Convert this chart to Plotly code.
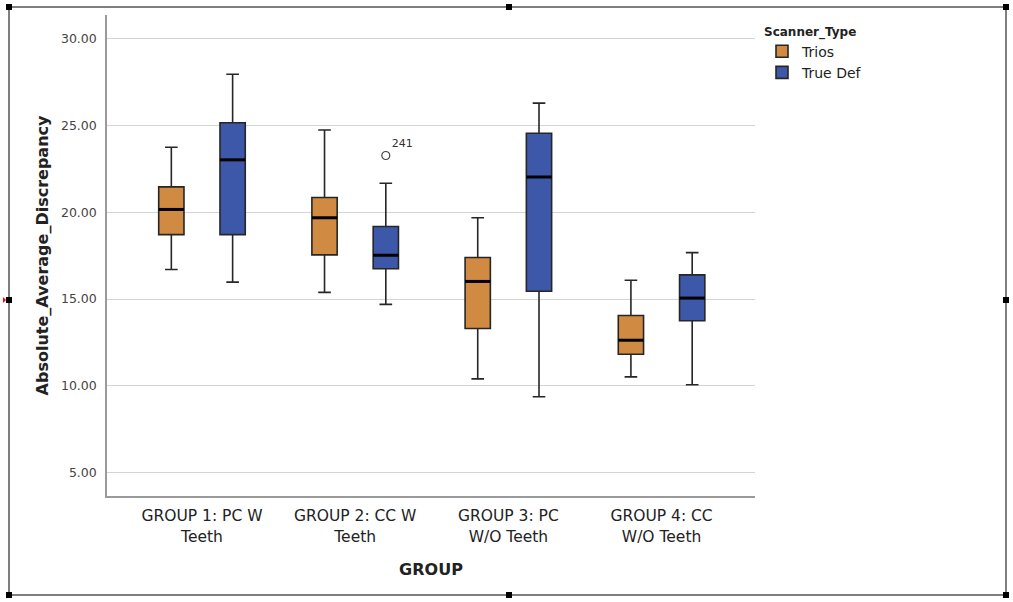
import plotly.graph_objects as go

# ---------------- data ----------------
groups = ["GROUP 1: PC W<br>Teeth", "GROUP 2: CC W<br>Teeth",
          "GROUP 3: PC<br>W/O Teeth", "GROUP 4: CC<br>W/O Teeth"]
scanner_types = ["Trios", "True Def"]

trios_low = [16.71, 15.39, 10.40, 10.52]
trios_q1 = [18.72, 17.55, 13.31, 11.82]
trios_med = [20.17, 19.69, 16.02, 12.63]
trios_q3 = [21.47, 20.86, 17.40, 14.06]
trios_high = [23.76, 24.75, 19.69, 16.09]

truedef_low = [15.98, 14.70, 9.37, 10.06]
truedef_q1 = [18.72, 16.75, 15.45, 13.75]
truedef_med = [23.03, 17.53, 22.04, 15.06]
truedef_q3 = [25.17, 19.19, 24.56, 16.40]
truedef_high = [27.96, 21.68, 26.30, 17.68]

outlier_group = [1]          # index into groups
outlier_type = ["True Def"]
outlier_value = [23.28]
outlier_label = ["241"]

y_ticks = [5, 10, 15, 20, 25, 30]

# ---------------- styling ----------------
colors = {"Trios": "#D08A41", "True Def": "#3D58A8"}
offsets = {"Trios": -0.20, "True Def": 0.20}
BOX_W = 0.165
FONT = "DejaVu Sans"

series = {
    "Trios": (trios_low, trios_q1, trios_med, trios_q3, trios_high),
    "True Def": (truedef_low, truedef_q1, truedef_med, truedef_q3, truedef_high),
}

fig = go.Figure()
for name in scanner_types:
    low, q1, med, q3, high = series[name]
    xs = [i + offsets[name] for i in range(len(groups))]
    fig.add_trace(go.Box(
        name=name, x=xs, q1=q1, median=med, q3=q3,
        lowerfence=low, upperfence=high,
        width=BOX_W, whiskerwidth=0.5,
        fillcolor=colors[name],
        line=dict(color="#262626", width=1.6),
        boxpoints=False, hoverinfo="skip",
    ))

# thick median lines
for name in scanner_types:
    med = series[name][2]
    mx, my = [], []
    for i, m in enumerate(med):
        c = i + offsets[name]
        mx += [c - BOX_W / 2, c + BOX_W / 2, None]
        my += [m, m, None]
    fig.add_trace(go.Scatter(x=mx, y=my, mode="lines",
                             line=dict(color="black", width=3),
                             showlegend=False, hoverinfo="skip"))

# outlier
fig.add_trace(go.Scatter(
    x=[g + offsets[t] for g, t in zip(outlier_group, outlier_type)],
    y=outlier_value, mode="markers+text", text=outlier_label,
    textposition="top right",
    textfont=dict(family=FONT, size=11, color="#333"),
    marker=dict(symbol="circle-open", size=8, color="#444", line=dict(width=1.2)),
    showlegend=False, hoverinfo="skip", cliponaxis=False,
))

# ---------------- layout ----------------
L, R, T, B = 107, 258, 15, 106
W, H = 1013, 602
PW, PH = W - L - R, H - T - B


def px(xp):
    return (xp - L) / PW


def py(yp):
    return (H - B - yp) / PH


shapes = [dict(type="rect", xref="paper", yref="paper",
               x0=px(9), x1=px(1006), y0=py(7), y1=py(595),
               line=dict(color="#555", width=1.5), layer="below")]
for hx, hy in [(9, 7), (509, 7), (1006, 7), (9, 300), (1006, 300),
               (9, 595), (509, 595), (1006, 595)]:
    shapes.append(dict(type="rect", xref="paper", yref="paper",
                       x0=px(hx - 3), x1=px(hx + 3), y0=py(hy + 3), y1=py(hy - 3),
                       fillcolor="black", line=dict(width=0)))
shapes.append(dict(type="path", xref="paper", yref="paper",
                   path=f"M {px(3)} {py(297)} L {px(6)} {py(300)} L {px(3)} {py(303)} Z",
                   fillcolor="red", line=dict(width=0)))

fig.update_layout(
    width=W, height=H,
    margin=dict(l=L, r=R, t=T, b=B, pad=0),
    paper_bgcolor="white", plot_bgcolor="white",
    font=dict(family=FONT, color="#222"),
    showlegend=True,
    legend=dict(
        x=px(762), y=py(20), xanchor="left", yanchor="top",
        title=dict(text="<b>Scanner_Type</b>", font=dict(size=12, color="#222")),
        font=dict(size=14, color="#222"),
        itemwidth=30, tracegroupgap=0, bgcolor="rgba(0,0,0,0)",
    ),
    xaxis=dict(
        range=[-0.62, 3.61], tickmode="array",
        tickvals=list(range(len(groups))), ticktext=groups,
        showgrid=False, zeroline=False,
        showline=True, linecolor="#9a9a9a", linewidth=1.5,
        ticks="", tickfont=dict(size=15.5, color="#222"),
        ticklabelstandoff=5,
        title=dict(text="<b>GROUP</b>", font=dict(size=16, color="#222"), standoff=19),
    ),
    yaxis=dict(
        range=[3.65, 31.38], tickmode="array", tickvals=y_ticks,
        tickformat=".2f", showgrid=True, gridcolor="#d4d4d4", gridwidth=1,
        zeroline=False, showline=True, linecolor="#9a9a9a", linewidth=1.5,
        ticks="", tickfont=dict(size=12.5, color="#444"),
        ticklabelstandoff=6,
        title=dict(text="<b>Absolute_Average_Discrepancy</b>",
                   font=dict(size=16, color="#222"), standoff=8),
    ),
    shapes=shapes,
)

fig.write_html("out.html",
               config={"displayModeBar": False},
               post_script="document.body.style.margin='0px';"
                           "document.body.style.overflow='hidden';")
